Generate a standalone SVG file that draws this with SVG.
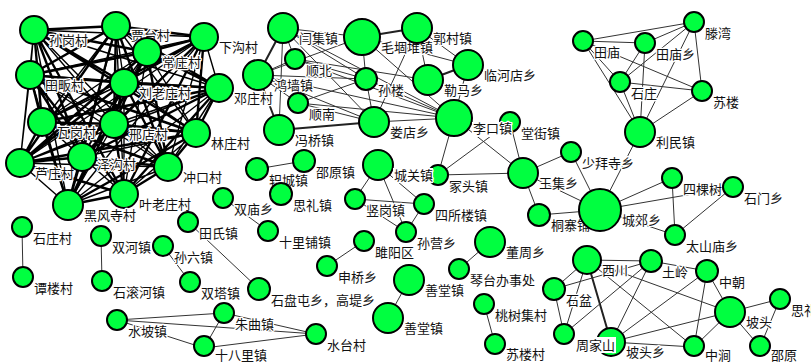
<svg xmlns="http://www.w3.org/2000/svg" width="811" height="363" viewBox="0 0 811 363">
<style>
.bg{fill:#fff}
.e{stroke:#333;stroke-width:1;fill:none}
.ew{stroke:#222;stroke-width:2;fill:none}
.dk{stroke:#000;stroke-width:2.4;fill:none}
.dt{stroke:#000;stroke-width:1.4;fill:none}
circle{fill:#00ff40;stroke:#000;stroke-width:2}
text{font-family:"Noto Sans CJK SC","Liberation Sans",sans-serif;font-size:13px;fill:#111;stroke:#fff;stroke-width:2.5;paint-order:stroke;stroke-linejoin:round}
.lb{fill:#fff;stroke:none}
</style>
<rect class="bg" x="0" y="0" width="811" height="363"/>
<g id="edges">
<path class="dk" d="M34 30L116 26M34 30L147 52M34 30L124 83M34 30L42 122M34 30L196 133M34 30L82 157M34 30L124 194M116 26L204 37M116 26L30 75M116 26L219 88M116 26L114 124M116 26L20 163M116 26L168 167M116 26L68 205M204 37L147 52M204 37L124 83M204 37L42 122M204 37L196 133M204 37L82 157M204 37L124 194M147 52L30 75M147 52L219 88M147 52L114 124M147 52L20 163M147 52L168 167M147 52L68 205M30 75L124 83M30 75L42 122M30 75L196 133M30 75L82 157M30 75L124 194M124 83L219 88M124 83L114 124M124 83L20 163M124 83L168 167M124 83L68 205M219 88L42 122M219 88L196 133M219 88L82 157M219 88L124 194M42 122L114 124M42 122L20 163M42 122L168 167M42 122L68 205M114 124L196 133M114 124L82 157M114 124L124 194M196 133L20 163M196 133L168 167M196 133L68 205M20 163L82 157M20 163L124 194M82 157L168 167M82 157L68 205M168 167L124 194M124 194L68 205"/>
<path class="dt" d="M34 30L204 37M34 30L30 75M34 30L219 88M34 30L114 124M34 30L20 163M34 30L168 167M34 30L68 205M116 26L147 52M116 26L124 83M116 26L42 122M116 26L196 133M116 26L82 157M116 26L124 194M204 37L30 75M204 37L219 88M204 37L114 124M204 37L20 163M204 37L168 167M204 37L68 205M147 52L124 83M147 52L42 122M147 52L196 133M147 52L82 157M147 52L124 194M30 75L219 88M30 75L114 124M30 75L20 163M30 75L168 167M30 75L68 205M124 83L42 122M124 83L196 133M124 83L82 157M124 83L124 194M219 88L114 124M219 88L20 163M219 88L168 167M219 88L68 205M42 122L196 133M42 122L82 157M42 122L124 194M114 124L20 163M114 124L168 167M114 124L68 205M196 133L82 157M196 133L124 194M20 163L168 167M20 163L68 205M82 157L124 194M168 167L68 205"/>
<path class="ew" d="M283 28L258 75M362 37L417 28M468 65L428 80M279 130L374 122M258 75L279 130M587 260L611 342"/>
<path class="e" d="M283 28L362 37M283 28L295 59M283 28L366 79M283 28L374 122M283 28L454 118M283 28L279 130M362 37L366 79M362 37L258 75M362 37L468 65M362 37L454 118M417 28L468 65M417 28L428 80M417 28L374 122M468 65L454 118M366 79L374 122M366 79L258 75M366 79L298 103M366 79L454 118M295 59L258 75M295 59L366 79M295 59L454 118M295 59L428 80M258 75L298 103M258 75L374 122M258 75L454 118M298 103L374 122M298 103L454 118M374 122L454 118"/>
<path class="e" d="M583 41L694 22M583 41L645 43M583 41L620 82M583 41L702 91M583 41L640 132M645 43L694 22M645 43L620 82M645 43L640 132M694 22L620 82M694 22L702 91M694 22L640 132M620 82L702 91M620 82L640 132M702 91L640 132"/>
<path class="e" d="M257 169L304 161M223 198L268 231M378 165L355 199M378 165L424 204M378 165L406 232M355 199L406 232M424 204L406 232M355 199L424 204M454 118L438 175M454 118L523 173M438 175L510 122M510 122L523 173M438 175L523 173M523 173L571 152M523 173L600 210M523 173L539 215M571 152L600 210M640 132L600 210M539 215L600 210M600 210L672 178M600 210L733 187M600 210L675 235M672 178L675 235M733 187L675 235M490 242L459 269M409 280L388 318M484 304L495 344"/>
<path class="e" d="M22 227L23 277M101 236L102 281M163 246L190 282M188 222L259 289M327 266L364 241M117 320L224 313M117 320L316 334M117 320L204 348M224 313L204 348M224 313L316 334M204 348L316 334"/>
<path class="e" d="M587 260L554 289M587 260L564 334M587 260L651 261M587 260L730 312M587 260L694 347M651 261L554 289M651 261L707 271M651 261L564 334M651 261L611 342M707 271L611 342M707 271L694 347M707 271L730 312M554 289L564 334M730 312L780 299M730 312L760 347M780 299L760 347M730 312L694 347M730 312L611 342M611 342L694 347"/>
</g>
<g id="n01"><circle cx="34" cy="30" r="14"/><text x="49" y="45">孙岗村</text></g>
<g id="n02"><circle cx="116" cy="26" r="14"/><text x="131" y="40">贾台村</text></g>
<g id="n03"><circle cx="204" cy="37" r="14"/><text x="219" y="52">下沟村</text></g>
<g id="n04"><circle cx="147" cy="52" r="14"/><text x="162" y="67">常庄村</text></g>
<g id="n05"><circle cx="30" cy="75" r="14"/><text x="45" y="90">田畈村</text></g>
<g id="n06"><circle cx="124" cy="83" r="14"/><text x="139" y="98">刘老庄村</text></g>
<g id="n07"><circle cx="219" cy="88" r="14"/><text x="234" y="103">邓庄村</text></g>
<g id="n08"><circle cx="42" cy="122" r="14"/><text x="57" y="137">瓦岗村</text></g>
<g id="n09"><circle cx="114" cy="124" r="14"/><text x="129" y="139">邢店村</text></g>
<g id="n10"><circle cx="196" cy="133" r="14"/><text x="211" y="148">林庄村</text></g>
<g id="n11"><circle cx="20" cy="163" r="14"/><text x="35" y="178">芦庄村</text></g>
<g id="n12"><circle cx="82" cy="157" r="14"/><text x="97" y="169">泽沟村</text></g>
<g id="n13"><circle cx="168" cy="167" r="14"/><text x="183" y="182">冲口村</text></g>
<g id="n14"><circle cx="124" cy="194" r="14"/><text x="139" y="209">叶老庄村</text></g>
<g id="n15"><circle cx="68" cy="205" r="15"/><text x="84" y="220">黑风寺村</text></g>
<g id="n16"><circle cx="283" cy="28" r="15"/><text x="299" y="43">闫集镇</text></g>
<g id="n17"><circle cx="362" cy="37" r="18"/><text x="381" y="52">毛堌堆镇</text></g>
<g id="n18"><circle cx="417" cy="28" r="15"/><text x="433" y="43">郭村镇</text></g>
<g id="n19"><circle cx="468" cy="65" r="15"/><text x="484" y="80">临河店乡</text></g>
<g id="n20"><circle cx="428" cy="80" r="15"/><text x="444" y="95">勒马乡</text></g>
<g id="n21"><circle cx="366" cy="79" r="11"/><text x="378" y="95">孙楼</text></g>
<g id="n22"><circle cx="295" cy="59" r="10"/><text x="306" y="75">顺北</text></g>
<g id="n23"><circle cx="258" cy="75" r="15"/><text x="274" y="90">鸿墙镇</text></g>
<g id="n24"><circle cx="298" cy="103" r="10"/><text x="309" y="119">顺南</text></g>
<g id="n25"><circle cx="279" cy="130" r="15"/><text x="295" y="145">冯桥镇</text></g>
<g id="n26"><circle cx="374" cy="122" r="15"/><text x="390" y="137">娄店乡</text></g>
<g id="n27"><circle cx="510" cy="122" r="10"/><text x="521" y="138">堂街镇</text></g>
<g id="n28"><circle cx="454" cy="118" r="18"/><rect class="lb" x="472" y="122" width="40" height="15"/><text x="473" y="133">李口镇</text></g>
<g id="n29"><circle cx="583" cy="41" r="10"/><text x="594" y="57">田庙</text></g>
<g id="n30"><circle cx="645" cy="43" r="10"/><text x="656" y="59">田庙乡</text></g>
<g id="n31"><circle cx="694" cy="22" r="10"/><text x="705" y="38">滕湾</text></g>
<g id="n32"><circle cx="620" cy="82" r="10"/><text x="631" y="98">石庄</text></g>
<g id="n33"><circle cx="702" cy="91" r="10"/><text x="713" y="107">苏楼</text></g>
<g id="n34"><circle cx="640" cy="132" r="15"/><text x="656" y="147">利民镇</text></g>
<g id="n35"><circle cx="257" cy="169" r="11"/><text x="269" y="185">轵城镇</text></g>
<g id="n36"><circle cx="304" cy="161" r="11"/><text x="316" y="177">邵原镇</text></g>
<g id="n37"><circle cx="281" cy="194" r="11"/><text x="293" y="210">思礼镇</text></g>
<g id="n38"><circle cx="223" cy="198" r="10"/><text x="234" y="214">双庙乡</text></g>
<g id="n39"><circle cx="438" cy="175" r="10"/><text x="449" y="191">冢头镇</text></g>
<g id="n40"><circle cx="378" cy="165" r="15"/><rect class="lb" x="393" y="168" width="40" height="15"/><text x="394" y="180">城关镇</text></g>
<g id="n41"><circle cx="355" cy="199" r="10"/><text x="366" y="215">竖岗镇</text></g>
<g id="n42"><circle cx="424" cy="204" r="10"/><text x="435" y="220">四所楼镇</text></g>
<g id="n43"><circle cx="406" cy="232" r="10"/><text x="417" y="248">孙营乡</text></g>
<g id="n44"><circle cx="523" cy="173" r="15"/><text x="539" y="188">王集乡</text></g>
<g id="n45"><circle cx="539" cy="215" r="11"/><text x="551" y="230">桐寨铺</text></g>
<g id="n46"><circle cx="571" cy="152" r="10"/><text x="582" y="168">少拜寺乡</text></g>
<g id="n47"><circle cx="600" cy="210" r="21"/><text x="622" y="225">城郊乡</text></g>
<g id="n48"><circle cx="672" cy="178" r="10"/><text x="683" y="194">四棵树</text></g>
<g id="n49"><circle cx="733" cy="187" r="10"/><text x="744" y="203">石门乡</text></g>
<g id="n50"><circle cx="675" cy="235" r="10"/><text x="686" y="251">太山庙乡</text></g>
<g id="n51"><circle cx="490" cy="242" r="15"/><text x="506" y="257">董周乡</text></g>
<g id="n52"><circle cx="459" cy="269" r="10"/><text x="470" y="285">琴台办事处</text></g>
<g id="n53"><circle cx="409" cy="280" r="15"/><text x="425" y="295">善堂镇</text></g>
<g id="n54"><circle cx="388" cy="318" r="15"/><text x="404" y="333">善堂镇</text></g>
<g id="n55"><circle cx="484" cy="304" r="10"/><text x="495" y="320">桃树集村</text></g>
<g id="n56"><circle cx="495" cy="344" r="10"/><text x="506" y="359">苏楼村</text></g>
<g id="n57"><circle cx="22" cy="227" r="10"/><text x="33" y="243">石庄村</text></g>
<g id="n58"><circle cx="23" cy="277" r="10"/><text x="34" y="293">谭楼村</text></g>
<g id="n59"><circle cx="101" cy="236" r="10"/><text x="112" y="252">双河镇</text></g>
<g id="n60"><circle cx="102" cy="281" r="10"/><text x="113" y="297">石滚河镇</text></g>
<g id="n61"><circle cx="163" cy="246" r="10"/><text x="174" y="262">孙六镇</text></g>
<g id="n62"><circle cx="190" cy="282" r="10"/><text x="201" y="298">双塔镇</text></g>
<g id="n63"><circle cx="188" cy="222" r="10"/><text x="199" y="238">田氏镇</text></g>
<g id="n64"><circle cx="259" cy="289" r="11"/><text x="271" y="305">石盘屯乡，高堤乡</text></g>
<g id="n65"><circle cx="268" cy="231" r="10"/><text x="279" y="247">十里铺镇</text></g>
<g id="n66"><circle cx="327" cy="266" r="10"/><text x="338" y="282">申桥乡</text></g>
<g id="n67"><circle cx="364" cy="241" r="10"/><text x="375" y="257">雎阳区</text></g>
<g id="n68"><circle cx="117" cy="320" r="10"/><text x="128" y="336">水坡镇</text></g>
<g id="n69"><circle cx="224" cy="313" r="10"/><text x="235" y="329">朱曲镇</text></g>
<g id="n70"><circle cx="204" cy="346" r="10"/><text x="215" y="360">十八里镇</text></g>
<g id="n71"><circle cx="316" cy="334" r="10"/><text x="327" y="350">水台村</text></g>
<g id="n72"><circle cx="587" cy="260" r="14"/><text x="602" y="275">西川</text></g>
<g id="n73"><circle cx="651" cy="261" r="11"/><text x="662" y="277">土岭</text></g>
<g id="n74"><circle cx="707" cy="271" r="11"/><text x="719" y="287">中朝</text></g>
<g id="n75"><circle cx="554" cy="289" r="11"/><text x="566" y="305">石盆</text></g>
<g id="n76"><circle cx="730" cy="312" r="15"/><text x="746" y="327">坡头</text></g>
<g id="n77"><circle cx="780" cy="299" r="10"/><text x="791" y="315">思礼</text></g>
<g id="n78"><circle cx="611" cy="342" r="14"/><text x="626" y="357">坡头乡</text></g>
<g id="n79"><circle cx="564" cy="334" r="10"/><rect class="lb" x="575" y="337" width="41" height="16"/><text x="576" y="350">周家山</text></g>
<g id="n80"><circle cx="694" cy="346" r="10"/><text x="705" y="360">中涧</text></g>
<g id="n81"><circle cx="760" cy="346" r="10"/><text x="771" y="360">邵原</text></g>
</svg>
